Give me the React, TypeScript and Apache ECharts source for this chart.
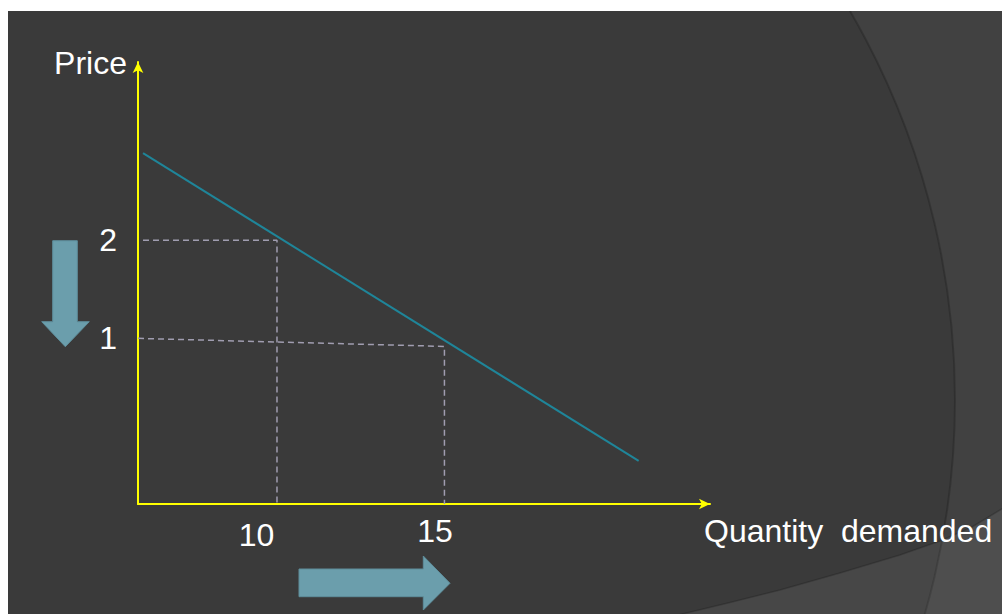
import React, { useEffect, useRef } from "react";
import * as echarts from "echarts";

// axis ranges
const xMin = 5.85;
const xMax = 22.93;
const yMin = -0.69;
const yMax = 3.82;

// tick labels
const xTicks = [10, 15];
const yTicks = [1, 2];

// demand curve (quantity, price)
const demandQty = [6.0, 20.8];
const demandPrice = [2.89, -0.25];

// guide lines
const guide2Qty = [6.0, 10, 10];
const guide2Price = [2, 2, yMin];
const guide1Qty = [xMin, 15, 15];
const guide1Price = [1, 0.918, yMin];

const xName = "Quantity  demanded";
const yName = "Price";

const FONT = "'Liberation Sans', Arial, sans-serif";
const YELLOW = "#ffff00";
const ARROW = "#6b9eac";

const zip = (a: number[], b: number[]) => a.map((v, i) => [v, b[i]]);

export default function App() {
  const ref = useRef<HTMLDivElement>(null);
  useEffect(() => {
    if (!ref.current) return;
    const chart = echarts.init(ref.current, undefined, { renderer: "svg" });
    const dashStyle = { color: "#a09db0", width: 1.5, type: [6, 4] as any };
    chart.setOption({
      animation: false,
      backgroundColor: "#414141",
      grid: { left: 130, top: 51, right: 292, bottom: 110, containLabel: false },
      xAxis: {
        type: "value",
        min: xMin,
        max: xMax,
        name: `{n|${xName}}`,
        nameLocation: "end",
        nameGap: -6,
        nameTextStyle: {
          color: "#ffffff",
          fontSize: 32,
          fontFamily: FONT,
          align: "left",
          verticalAlign: "middle",
          rich: {
            n: {
              color: "#ffffff",
              fontSize: 32,
              fontFamily: FONT,
              padding: [53, 0, 0, 0],
            },
          },
        },
        axisLine: {
          show: true,
          onZero: false,
          symbol: ["none", "arrow"],
          symbolSize: [8, 11],
          lineStyle: { color: YELLOW, width: 2 },
        },
        axisTick: { show: false },
        splitLine: { show: false },
        axisLabel: {
          customValues: xTicks,
          margin: 29,
          verticalAlign: "middle",
          formatter: (v: number) => (v === xTicks[0] ? `{a|${v}}` : `{b|${v}}`),
          rich: {
            a: { color: "#fff", fontSize: 32, fontFamily: FONT, padding: [4, 41, 0, 0] },
            b: { color: "#fff", fontSize: 32, fontFamily: FONT, padding: [0, 19, 5, 0] },
          },
        },
      },
      yAxis: {
        type: "value",
        min: yMin,
        max: yMax,
        name: yName,
        nameLocation: "end",
        nameGap: -1,
        nameTextStyle: {
          color: "#ffffff",
          fontSize: 32,
          fontFamily: FONT,
          align: "right",
          verticalAlign: "middle",
          padding: [0, 11, 0, 0],
        },
        axisLine: {
          show: true,
          onZero: false,
          symbol: ["none", "arrow"],
          symbolSize: [8, 11],
          lineStyle: { color: YELLOW, width: 2 },
        },
        axisTick: { show: false },
        splitLine: { show: false },
        axisLabel: {
          customValues: yTicks,
          margin: 21,
          color: "#fff",
          fontSize: 32,
          fontFamily: FONT,
          padding: [6, 0, 0, 0],
        },
      },
      series: [
        {
          type: "line",
          data: zip(guide2Qty, guide2Price),
          symbol: "none",
          lineStyle: dashStyle,
          z: 2,
        },
        {
          type: "line",
          data: zip(guide1Qty, guide1Price),
          symbol: "none",
          lineStyle: dashStyle,
          z: 2,
        },
        {
          type: "line",
          data: zip(demandQty, demandPrice),
          symbol: "none",
          lineStyle: { color: "#1f8599", width: 2 },
          z: 3,
        },
      ],
      graphic: [
        {
          type: "circle",
          z: -100,
          silent: true,
          shape: { cx: 174, cy: 389, r: 773 },
          style: { fill: "#3a3a3a", stroke: "rgba(0,0,0,0.18)", lineWidth: 2 },
        },
        {
          type: "polygon",
          z: -99,
          silent: true,
          shape: {
            points: [
              [662, 606],
              [720, 592],
              [772, 579],
              [832, 562],
              [892, 544],
              [932, 530],
              [964, 516],
              [997, 496],
              [1000, 610],
            ],
          },
          style: { fill: "rgba(255,255,255,0.07)", stroke: "rgba(0,0,0,0.18)", lineWidth: 1.5 },
        },
        {
          type: "polygon",
          z: 50,
          silent: true,
          shape: {
            points: [
              [44.7, 229.7],
              [69.3, 229.7],
              [69.3, 310.7],
              [81.3, 310.7],
              [57.3, 335.7],
              [33.7, 310.7],
              [44.7, 310.7],
            ],
          },
          style: { fill: ARROW, stroke: "#5e8d9a", lineWidth: 1 },
        },
        {
          type: "polygon",
          z: 50,
          silent: true,
          shape: {
            points: [
              [291, 558],
              [415.3, 558],
              [415.3, 545],
              [442, 572.3],
              [415.3, 599],
              [415.3, 585.7],
              [291, 585.7],
            ],
          },
          style: { fill: ARROW, stroke: "#5e8d9a", lineWidth: 1 },
        },
      ],
    });
    return () => chart.dispose();
  }, []);
  return (
    <div
      ref={ref}
      style={{ position: "absolute", left: 8, top: 11, width: 994, height: 603 }}
    />
  );
}
